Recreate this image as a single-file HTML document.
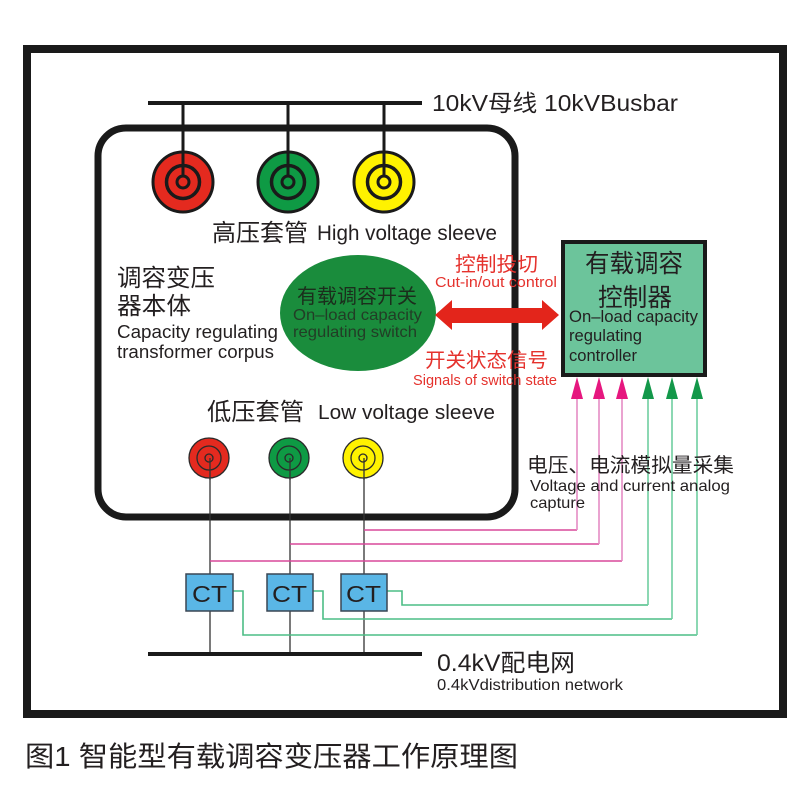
<!DOCTYPE html>
<html><head><meta charset="utf-8"><style>
html,body{margin:0;padding:0;background:#fff;}
svg{display:block;}
text{font-family:"Liberation Sans","Noto Sans CJK SC",sans-serif;fill:#231f20;}
</style></head><body>
<svg width="800" height="800" viewBox="0 0 800 800" xmlns="http://www.w3.org/2000/svg">
<rect x="0" y="0" width="800" height="800" fill="#fff"/>
<!-- outer frame -->
<rect x="27" y="49" width="756" height="665" fill="none" stroke="#1a1a1a" stroke-width="8"/>

<!-- top busbar -->
<line x1="148" y1="103" x2="422" y2="103" stroke="#1a1a1a" stroke-width="4"/>
<text x="432" y="111" font-size="23" textLength="246" lengthAdjust="spacingAndGlyphs">10kV母线 10kVBusbar</text>

<!-- transformer box -->
<rect x="98" y="128" width="417" height="389" rx="28" ry="28" fill="none" stroke="#1a1a1a" stroke-width="7"/>

<!-- HV sleeves -->
<g stroke="#1a1a1a">
<line x1="183" y1="103" x2="183" y2="178" stroke-width="3"/>
<line x1="288" y1="103" x2="288" y2="178" stroke-width="3"/>
<line x1="384" y1="103" x2="384" y2="178" stroke-width="3"/>
<circle cx="183" cy="182" r="30" fill="#e42a1f" stroke-width="3"/>
<circle cx="183" cy="182" r="16.5" fill="none" stroke-width="3.5"/>
<circle cx="183" cy="182" r="6" fill="none" stroke-width="3"/>
<circle cx="288" cy="182" r="30" fill="#0e9a44" stroke-width="3"/>
<circle cx="288" cy="182" r="16.5" fill="none" stroke-width="3.5"/>
<circle cx="288" cy="182" r="6" fill="none" stroke-width="3"/>
<circle cx="384" cy="182" r="30" fill="#fff200" stroke-width="3"/>
<circle cx="384" cy="182" r="16.5" fill="none" stroke-width="3.5"/>
<circle cx="384" cy="182" r="6" fill="none" stroke-width="3"/>
</g>
<line x1="183" y1="150" x2="183" y2="176" stroke="#1a1a1a" stroke-width="3"/>
<line x1="288" y1="150" x2="288" y2="176" stroke="#1a1a1a" stroke-width="3"/>
<line x1="384" y1="150" x2="384" y2="176" stroke="#1a1a1a" stroke-width="3"/>

<text x="212" y="241" font-size="24" textLength="96" lengthAdjust="spacingAndGlyphs">高压套管</text>
<text x="317" y="240" font-size="21" textLength="180" lengthAdjust="spacingAndGlyphs">High voltage sleeve</text>

<!-- left labels -->
<text x="117" y="286" font-size="24" textLength="98" lengthAdjust="spacingAndGlyphs">调容变压</text>
<text x="117" y="314" font-size="24" textLength="74" lengthAdjust="spacingAndGlyphs">器本体</text>
<text x="117" y="338" font-size="18" textLength="161" lengthAdjust="spacingAndGlyphs">Capacity regulating</text>
<text x="117" y="358" font-size="18" textLength="157" lengthAdjust="spacingAndGlyphs">transformer corpus</text>

<!-- switch ellipse -->
<ellipse cx="358" cy="313" rx="78" ry="58" fill="#1a8c3c"/>
<text x="297" y="303" font-size="20" textLength="120" lengthAdjust="spacingAndGlyphs" style="fill:#1b2e1c">有载调容开关</text>
<text x="293" y="320" font-size="16" textLength="129" lengthAdjust="spacingAndGlyphs" style="fill:#223d26">On–load capacity</text>
<text x="293" y="337" font-size="16" textLength="124" lengthAdjust="spacingAndGlyphs" style="fill:#223d26">regulating switch</text>

<!-- red labels -->
<text x="455" y="271" font-size="20" textLength="83" lengthAdjust="spacingAndGlyphs" style="fill:#e5322d">控制投切</text>
<text x="435" y="287" font-size="15" textLength="122" lengthAdjust="spacingAndGlyphs" style="fill:#e5322d">Cut-in/out control</text>
<text x="425" y="367" font-size="20" textLength="123" lengthAdjust="spacingAndGlyphs" style="fill:#e5322d">开关状态信号</text>
<text x="413" y="385" font-size="15" textLength="144" lengthAdjust="spacingAndGlyphs" style="fill:#e5322d">Signals of switch state</text>

<!-- red double arrow -->
<polygon points="435,315 452,300 452,308 542,308 542,300 559,315 542,330 542,323 452,323 452,330" fill="#e3251b"/>

<!-- controller -->
<rect x="563" y="242" width="142" height="133" fill="#6cc49b" stroke="#1a1a1a" stroke-width="4"/>
<text x="585" y="272" font-size="25" textLength="98" lengthAdjust="spacingAndGlyphs">有载调容</text>
<text x="598" y="306" font-size="25" textLength="74" lengthAdjust="spacingAndGlyphs">控制器</text>
<text x="569" y="322" font-size="17" textLength="129" lengthAdjust="spacingAndGlyphs">On–load capacity</text>
<text x="569" y="341" font-size="17" textLength="73" lengthAdjust="spacingAndGlyphs">regulating</text>
<text x="569" y="361" font-size="17" textLength="68" lengthAdjust="spacingAndGlyphs">controller</text>

<!-- LV label -->
<text x="207" y="420" font-size="24" textLength="97" lengthAdjust="spacingAndGlyphs">低压套管</text>
<text x="318" y="419" font-size="20" textLength="177" lengthAdjust="spacingAndGlyphs">Low voltage sleeve</text>

<!-- vertical black lines LV -->
<g stroke="#333" stroke-width="1.3">
<line x1="210" y1="458" x2="210" y2="654"/>
<line x1="290" y1="458" x2="290" y2="654"/>
<line x1="364" y1="458" x2="364" y2="654"/>
</g>
<!-- LV sleeves -->
<g stroke="#2a2a2a" stroke-width="1.3">
<circle cx="209" cy="458" r="20" fill="#e42a1f"/>
<circle cx="209" cy="458" r="12" fill="none"/>
<circle cx="209" cy="458" r="4" fill="none"/>
<circle cx="289" cy="458" r="20" fill="#0e9a44"/>
<circle cx="289" cy="458" r="12" fill="none"/>
<circle cx="289" cy="458" r="4" fill="none"/>
<circle cx="363" cy="458" r="20" fill="#fff200"/>
<circle cx="363" cy="458" r="12" fill="none"/>
<circle cx="363" cy="458" r="4" fill="none"/>
</g>
<g stroke="#333" stroke-width="1.3">
<line x1="210" y1="458" x2="210" y2="480"/>
<line x1="290" y1="458" x2="290" y2="480"/>
<line x1="364" y1="458" x2="364" y2="480"/>
</g>

<!-- pink lines -->
<g fill="none" stroke-width="1.6">
<polyline points="364,530 577,530" stroke="#d8489a"/>
<polyline points="290,544 599,544" stroke="#d8489a"/>
<polyline points="210,561 622,561" stroke="#d8489a"/>
<line x1="577" y1="530" x2="577" y2="395" stroke="#e48cc4"/>
<line x1="599" y1="544" x2="599" y2="395" stroke="#e48cc4"/>
<line x1="622" y1="561" x2="622" y2="395" stroke="#e48cc4"/>
</g>
<!-- green lines -->
<g fill="none" stroke-width="1.6">
<polyline points="387,591 402,591 402,605 648,605" stroke="#4cbd85"/>
<polyline points="313,591 323,591 323,619 672,619" stroke="#4cbd85"/>
<polyline points="233,591 243,591 243,635 697,635" stroke="#4cbd85"/>
<line x1="648" y1="605" x2="648" y2="395" stroke="#6fcfa0"/>
<line x1="672" y1="619" x2="672" y2="395" stroke="#6fcfa0"/>
<line x1="697" y1="635" x2="697" y2="395" stroke="#6fcfa0"/>
</g>
<!-- arrowheads -->
<g>
<polygon points="577,377 571,399 583,399" fill="#e6177f"/>
<polygon points="599,377 593,399 605,399" fill="#e6177f"/>
<polygon points="622,377 616,399 628,399" fill="#e6177f"/>
<polygon points="648,377 642,399 654,399" fill="#13984a"/>
<polygon points="672,377 666,399 678,399" fill="#13984a"/>
<polygon points="697,377 691,399 703,399" fill="#13984a"/>
</g>

<!-- analog capture labels -->
<text x="527" y="472" font-size="20" textLength="207" lengthAdjust="spacingAndGlyphs">电压、电流模拟量采集</text>
<text x="530" y="491" font-size="16" textLength="200" lengthAdjust="spacingAndGlyphs">Voltage and current analog</text>
<text x="530" y="508" font-size="16" textLength="55" lengthAdjust="spacingAndGlyphs">capture</text>

<!-- CT boxes -->
<g fill="#5ab6e6" stroke="#3a4654" stroke-width="1.5">
<rect x="186" y="574" width="47" height="37"/>
<rect x="267" y="574" width="46" height="37"/>
<rect x="341" y="574" width="46" height="37"/>
</g>
<text x="192" y="602" font-size="23" textLength="35" lengthAdjust="spacingAndGlyphs">CT</text>
<text x="272" y="602" font-size="23" textLength="35" lengthAdjust="spacingAndGlyphs">CT</text>
<text x="346" y="602" font-size="23" textLength="35" lengthAdjust="spacingAndGlyphs">CT</text>

<!-- bottom busbar -->
<line x1="148" y1="654" x2="422" y2="654" stroke="#1a1a1a" stroke-width="4"/>
<text x="437" y="671" font-size="24" textLength="138" lengthAdjust="spacingAndGlyphs">0.4kV配电网</text>
<text x="437" y="690" font-size="16" textLength="186" lengthAdjust="spacingAndGlyphs">0.4kVdistribution network</text>

<!-- title -->
<text x="25" y="766" font-size="28" textLength="493" lengthAdjust="spacingAndGlyphs">图1 智能型有载调容变压器工作原理图</text>
</svg>
</body></html>
